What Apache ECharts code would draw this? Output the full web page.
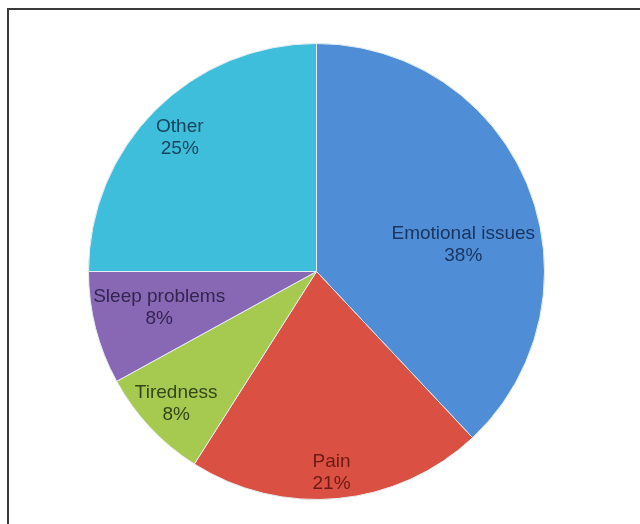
<!DOCTYPE html>
<html><head><meta charset="utf-8">
<script src="https://cdn.jsdelivr.net/npm/echarts@6/dist/echarts.min.js"></script>
<style>html,body{margin:0;padding:0;background:#fff}#c{width:640px;height:524px}</style>
</head><body><div id="c"></div>
<script>
const categories = ['Emotional issues', 'Pain', 'Tiredness', 'Sleep problems', 'Other'];
const values = [38, 21, 8, 8, 25];
const colors = ['#4F8ED6', '#DA5042', '#A6CA50', '#8868B4', '#3EBEDA'];
const labelColors = ['#1B3560', '#6E1A14', '#34451A', '#33254F', '#16455C'];
const labelOffsets = [[38, 16], [4, 85], [-55, 52], [-44, 7], [-54, -51]];

const chart = echarts.init(document.getElementById('c'), null, {renderer: 'canvas'});
chart.setOption({
  backgroundColor: '#ffffff',
  animation: false,
  graphic: [
    {type: 'line', shape: {x1: 8, y1: 9, x2: 8, y2: 524}, style: {stroke: '#3a3a3a', lineWidth: 2}},
    {type: 'line', shape: {x1: 7, y1: 9, x2: 640, y2: 9}, style: {stroke: '#3a3a3a', lineWidth: 2}}
  ],
  series: [{
    type: 'pie',
    center: [316.5, 271.5],
    radius: [0, 228],
    startAngle: 90,
    clockwise: true,
    avoidLabelOverlap: false,
    itemStyle: {borderColor: '#e6edf3', borderWidth: 1},
    label: {
      show: true,
      position: 'inside',
      fontFamily: 'Liberation Sans, Arial, sans-serif',
      fontSize: 19,
      lineHeight: 22,
      align: 'center',
      formatter: p => p.name + '\n' + p.value + '%'
    },
    labelLine: {show: false},
    data: categories.map((c, i) => ({
      name: c,
      value: values[i],
      itemStyle: {color: colors[i]},
      label: {color: labelColors[i], offset: labelOffsets[i]}
    }))
  }]
});
</script></body></html>
